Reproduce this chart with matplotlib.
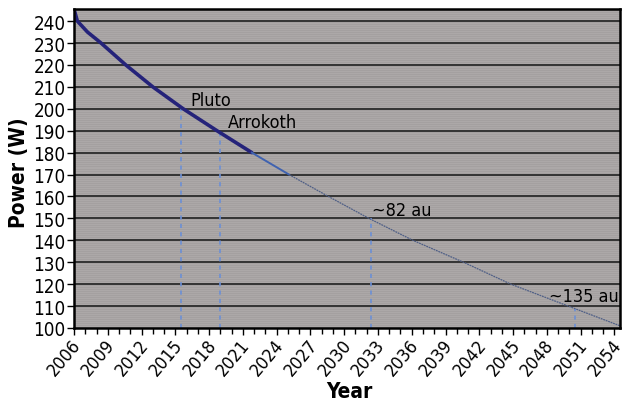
import numpy as np
import matplotlib.pyplot as plt
import matplotlib.transforms as mtransforms
from matplotlib.ticker import MultipleLocator

# RTG power output over the mission, read at the grid crossings
years = [2006.0, 2006.3, 2007.2, 2008.4, 2010.6, 2013.0, 2015.7, 2018.7,
         2021.8, 2025.1, 2028.6, 2032.2, 2036.1, 2040.6, 2044.8, 2049.9,
         2054.5]
power = [245.5, 240.0, 235.0, 230.0, 220.0, 210.0, 200.0, 190.0,
         180.0, 170.0, 160.0, 150.0, 140.0, 130.0, 120.0, 110.0,
         101.0]

# milestones along the curve
event_names = ["Pluto", "Arrokoth", "~82 au", "~135 au"]
event_years = [2015.5, 2019.0, 2032.4, 2050.5]
event_power = [200.5, 189.5, 150.3, 108.8]

year_ticks = list(range(2006, 2055, 3))
power_ticks = list(range(100, 241, 10))

plt.rcParams['font.family'] = ['DejaVu Sans']
plt.rcParams['font.stretch'] = 'condensed'

fig = plt.figure(figsize=(6.25, 4.02), dpi=100)
ax = fig.add_axes([0.1184, 0.1816, 0.8736, 0.7934])

# grey background with fine horizontal striping
light = np.array([0.675, 0.659, 0.659])
dark = np.array([0.645, 0.629, 0.629])
stripes = np.array([light, dark] * 160).reshape(320, 1, 3)
ax.imshow(stripes, extent=[2006, 2054.5, 100, 245.5], aspect='auto',
          zorder=0, interpolation='nearest')

for p in power_ticks[1:]:
    ax.axhline(p, color='#2b2b2b', lw=1.3, zorder=1)

# solid part of the curve (measured), then fading to the projection
ax.plot(years[:9], power[:9], color='#25237a', lw=2.6, zorder=4,
        solid_capstyle='round')
ax.plot(years[8:10], power[8:10], color='#3f62b0', lw=1.4, zorder=4)
ax.plot(years[9:], power[9:], color='#4f5f86', lw=0.9, ls=(0, (1.5, 0.6)),
        zorder=4)

for x, y in zip(event_years, event_power):
    ax.vlines(x, 100, y, color='#6b8fd6', lw=1.2, ls=(0, (2.5, 2.5)),
              zorder=3)

label_pos = [(2016.3, 201.9), (2019.7, 191.7), (2032.5, 151.5),
             (2048.2, 112.2)]
for name, (x, y) in zip(event_names, label_pos):
    ax.text(x, y, name, fontsize=13, va='baseline', ha='left',
            color='black', zorder=5)

ax.set_xlim(2006, 2054.5)
ax.set_ylim(100, 245.5)
ax.set_xticks(year_ticks)
ax.set_xticklabels([str(y) for y in year_ticks], rotation=50,
                   ha='right', va='center', rotation_mode='anchor',
                   fontsize=13)
ax.xaxis.set_minor_locator(MultipleLocator(1))
ax.set_yticks(power_ticks)
ax.set_yticklabels([str(p) for p in power_ticks], fontsize=13.5)
ax.tick_params(axis='both', which='major', direction='out', length=5,
               width=1, pad=1)
ax.tick_params(axis='x', which='major', pad=4)
ax.tick_params(axis='x', which='minor', direction='out', length=4, width=1)

# nudge the slanted year labels so they hang off the right of each tick
shift = mtransforms.ScaledTranslation(4 / 100, -1 / 100, fig.dpi_scale_trans)
for lbl in ax.get_xticklabels():
    lbl.set_transform(lbl.get_transform() + shift)

for s in ax.spines.values():
    s.set_linewidth(1.8)
    s.set_color('black')
    s.set_zorder(6)

ax.set_xlabel("Year", fontsize=15, fontweight='bold', va='center')
ax.set_ylabel("Power (W)", fontsize=15, fontweight='bold', va='center')
ax.xaxis.set_label_coords(0.504, -0.197)
ax.yaxis.set_label_coords(-0.1, 0.49)

fig.savefig("out.png", dpi=100)
